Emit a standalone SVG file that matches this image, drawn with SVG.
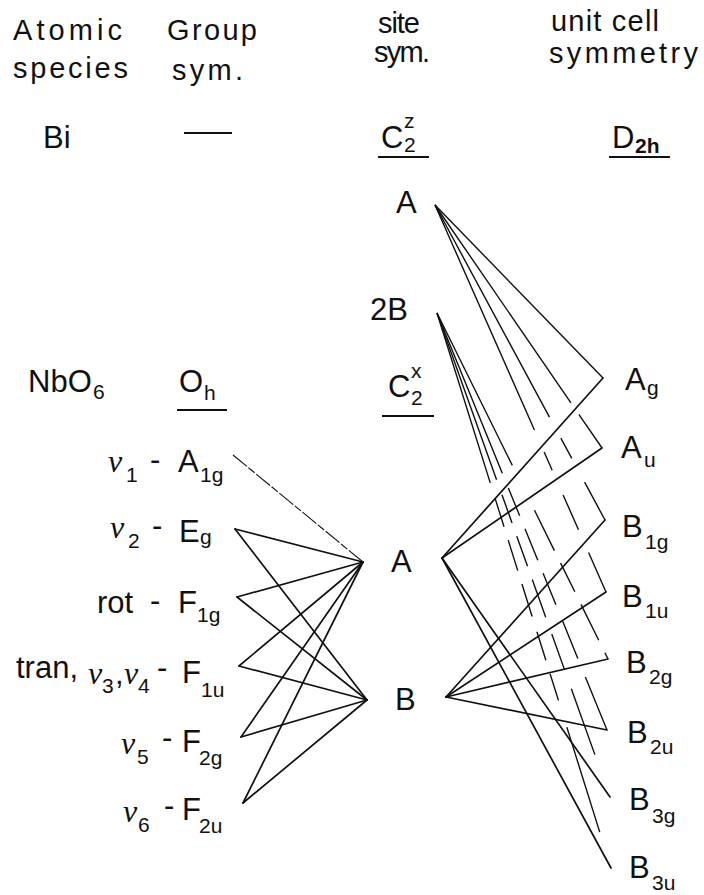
<svg xmlns="http://www.w3.org/2000/svg" width="704" height="895" viewBox="0 0 704 895">
<style>
text{font-family:"Liberation Sans","DejaVu Sans",sans-serif;fill:#111;}
.h{font-size:29px;}
.m{font-size:31px;}
.s{font-size:21px;}
.nu{font-family:"Liberation Serif",serif;font-style:italic;font-size:32px;}
.ln{stroke:#111;stroke-width:1.7;fill:none;stroke-linecap:round;}
.thin{stroke:#111;stroke-width:1.1;fill:none;}
.dl{stroke:#111;stroke-width:1.4;fill:none;}
.ul{stroke:#111;stroke-width:2;}
</style>
<rect width="704" height="895" fill="#fff"/>
<g id="headers">
<text class="h" x="13" y="40" textLength="109" lengthAdjust="spacing">Atomic</text>
<text class="h" x="13" y="78" textLength="115" lengthAdjust="spacing">species</text>
<text class="h" x="167" y="40" textLength="90" lengthAdjust="spacing">Group</text>
<text class="h" x="172" y="80" textLength="71" lengthAdjust="spacing">sym.</text>
<text class="h" x="378" y="33" textLength="42" lengthAdjust="spacing">site</text>
<text class="h" x="374" y="62" textLength="56" lengthAdjust="spacing">sym.</text>
<text class="h" x="551" y="31" textLength="108" lengthAdjust="spacing">unit cell</text>
<text class="h" x="549" y="63" textLength="149" lengthAdjust="spacing">symmetry</text>
</g>
<g id="bi-row">
<text class="m" x="43" y="148">Bi</text>
<line class="ul" x1="184" y1="133" x2="232" y2="133"/>
<text class="m" x="381" y="148">C<tspan class="s" x="404" y="128">z</tspan><tspan class="s" x="404" y="152">2</tspan></text>
<line class="ul" x1="378" y1="157" x2="429" y2="157"/>
<text class="m" x="612" y="148">D<tspan class="s" x="635" y="153" font-weight="bold">2h</tspan></text>
<line class="ul" x1="609" y1="157" x2="670" y2="157"/>
</g>
<g id="site-z-A"><text class="m" x="396" y="213">A</text></g>
<g id="site-z-2B"><text class="m" x="370" y="320">2B</text></g>
<g id="nbo6-row">
<text class="m" x="28" y="392">NbO<tspan class="s" x="93" y="399">6</tspan></text>
<text class="m" x="179" y="392">O<tspan class="s" x="204" y="400">h</tspan></text>
<line class="ul" x1="177" y1="410" x2="227" y2="410"/>
<text class="m" x="388" y="397">C<tspan class="s" x="411" y="378">x</tspan><tspan class="s" x="411" y="405">2</tspan></text>
<line class="ul" x1="382" y1="416" x2="434" y2="416"/>
</g>
<g id="A1g"><text><tspan class="nu" x="108" y="472">ν</tspan><tspan class="s" x="126" y="482">1</tspan><tspan class="m" x="150" y="470">-</tspan><tspan class="m" x="178" y="472">A</tspan><tspan class="s" x="200" y="482">1g</tspan></text></g>
<g id="Eg"><text><tspan class="nu" x="110" y="538">ν</tspan><tspan class="s" x="128" y="548">2</tspan><tspan class="m" x="152" y="536">-</tspan><tspan class="m" x="179" y="542">E</tspan><tspan class="s" x="200" y="544" font-size="24">g</tspan></text></g>
<g id="F1g"><text><tspan class="m" x="97" y="613">rot</tspan><tspan class="m" x="150" y="611">-</tspan><tspan class="m" x="178" y="613">F</tspan><tspan class="s" x="197" y="622">1g</tspan></text></g>
<g id="F1u"><text><tspan class="m" x="16" y="678">tran,</tspan><tspan class="nu" x="88" y="684">ν</tspan><tspan class="s" x="102" y="693">3</tspan><tspan class="m" x="115" y="684">,</tspan><tspan class="nu" x="124" y="684">ν</tspan><tspan class="s" x="138" y="693">4</tspan><tspan class="m" x="157" y="678">-</tspan><tspan class="m" x="182" y="683">F</tspan><tspan class="s" x="201" y="697">1u</tspan></text></g>
<g id="F2g"><text><tspan class="nu" x="121" y="754">ν</tspan><tspan class="s" x="137" y="764">5</tspan><tspan class="m" x="162" y="748">-</tspan><tspan class="m" x="182" y="752">F</tspan><tspan class="s" x="199" y="765">2g</tspan></text></g>
<g id="F2u"><text><tspan class="nu" x="123" y="822">ν</tspan><tspan class="s" x="138" y="832">6</tspan><tspan class="m" x="164" y="816">-</tspan><tspan class="m" x="182" y="820">F</tspan><tspan class="s" x="199" y="833">2u</tspan></text></g>
<g id="site-x-A"><text class="m" x="391" y="572">A</text></g>
<g id="site-x-B"><text class="m" x="395" y="710">B</text></g>
<g id="Ag"><text><tspan class="m" x="625" y="390">A</tspan><tspan class="s" x="647" y="395" font-size="24">g</tspan></text></g>
<g id="Au"><text><tspan class="m" x="621" y="458">A</tspan><tspan class="s" x="644" y="467" font-size="24">u</tspan></text></g>
<g id="B1g"><text><tspan class="m" x="622" y="537">B</tspan><tspan class="s" x="645" y="549">1g</tspan></text></g>
<g id="B1u"><text><tspan class="m" x="622" y="607">B</tspan><tspan class="s" x="645" y="618">1u</tspan></text></g>
<g id="B2g"><text><tspan class="m" x="626" y="673">B</tspan><tspan class="s" x="649" y="684">2g</tspan></text></g>
<g id="B2u"><text><tspan class="m" x="627" y="743">B</tspan><tspan class="s" x="650" y="754">2u</tspan></text></g>
<g id="B3g"><text><tspan class="m" x="629" y="810">B</tspan><tspan class="s" x="652" y="823">3g</tspan></text></g>
<g id="B3u"><text><tspan class="m" x="629" y="878">B</tspan><tspan class="s" x="652" y="890">3u</tspan></text></g>
<g id="connectors">
<line class="thin" x1="233" y1="455" x2="363" y2="562" stroke-dasharray="18 2 8 2"/>
<line class="ln" x1="235" y1="529" x2="363" y2="562"/>
<line class="ln" x1="235" y1="529" x2="367" y2="700"/>
<line class="ln" x1="237" y1="597" x2="363" y2="562"/>
<line class="ln" x1="237" y1="597" x2="367" y2="700"/>
<line class="ln" x1="239" y1="666" x2="363" y2="562"/>
<line class="ln" x1="239" y1="666" x2="367" y2="700"/>
<line class="ln" x1="241" y1="737" x2="363" y2="562"/>
<line class="ln" x1="241" y1="737" x2="367" y2="700"/>
<line class="ln" x1="243" y1="803" x2="363" y2="562"/>
<line class="ln" x1="243" y1="803" x2="367" y2="700"/>
<line class="ln" x1="442" y1="558" x2="603" y2="378"/>
<line class="ln" x1="442" y1="558" x2="602" y2="448"/>
<line class="ln" x1="442" y1="558" x2="610" y2="797"/>
<line class="ln" x1="442" y1="558" x2="611" y2="868"/>
<line class="ln" x1="446" y1="697" x2="605" y2="520"/>
<line class="ln" x1="446" y1="697" x2="606" y2="592"/>
<line class="ln" x1="446" y1="697" x2="608" y2="659"/>
<line class="ln" x1="446" y1="697" x2="607" y2="730"/>
<line class="dl" x1="435" y1="205" x2="603" y2="378"/>
<line class="dl" x1="435" y1="205" x2="602" y2="448" stroke-dasharray="240 14 60"/>
<line class="dl" x1="435" y1="205" x2="605" y2="520" stroke-dasharray="241 24 23 27 50"/>
<line class="dl" x1="435" y1="205" x2="606" y2="592" stroke-dasharray="246 24 20 27 38 25 50"/>
<line class="dl" x1="437" y1="313" x2="608" y2="659" stroke-dasharray="170 50 45 14 32 14 40 14 60"/>
<line class="dl" x1="437" y1="313" x2="607" y2="730" stroke-dasharray="173 16 30 14 34 14 34 18 40 20 60"/>
<line class="dl" x1="437" y1="313" x2="610" y2="797" stroke-dasharray="177 16 30 14 32 14 40 18 38 20 70"/>
<line class="dl" x1="437" y1="313" x2="611" y2="868" stroke-dasharray="178 16 30 14 32 14 34 16 30 14 28 28 110"/>
</g>
</svg>
